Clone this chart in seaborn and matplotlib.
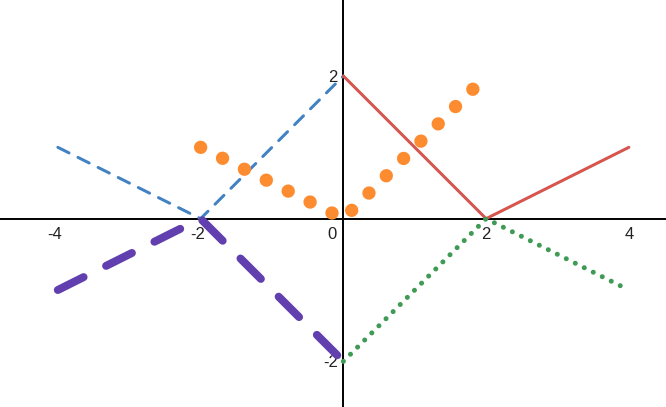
import numpy as np
import matplotlib
matplotlib.use("Agg")
import matplotlib.pyplot as plt
import matplotlib.transforms as mtrans
import pandas as pd
import seaborn as sns

# vertices of each polyline
blue_x = [-4, -2, 0]
blue_y = [1, 0, 2]
red_x = [0, 2, 4]
red_y = [2, 0, 1]
purple_x = [-4, -2, 0]
purple_y = [-1, 0, -2]
green_x = [0, 2, 4]
green_y = [-2, 0, -1]
orange_x = [-2, 0, 2]
orange_y = [1, 0, 2]

x_ticks = [-4, -2, 0, 2, 4]
y_ticks = [-2, 2]

sns.set_style("white")
plt.rcParams['font.family'] = ['Liberation Sans', 'DejaVu Sans']

fig = plt.figure(figsize=(6.66, 4.07), dpi=100)
ax = fig.add_axes([0, 0, 1, 1])

PX = 72.0 / 100  # one pixel in points

def draw(x, y, color, lw_px, ls):
    sns.lineplot(x=x, y=y, ax=ax, color=color, lw=lw_px * PX, ls=ls,
                 sort=False, estimator=None, dash_capstyle='round',
                 solid_capstyle='round', solid_joinstyle='round')

draw(blue_x, blue_y, '#4282c3', 3, (0, (4.2, 3.3)))
draw(red_x, red_y, '#d5554f', 3, '-')
draw(orange_x, orange_y, '#fd8c30', 13.3, (0, (0.01, 1.83)))
draw(purple_x, purple_y, '#613fae', 8, (0, (3.6, 3.15)))
draw(green_x, green_y, '#3f9a55', 5, (0, (0.01, 2.0)))

ax.set_xlim(-4.81, 4.52)
ax.set_ylim(-2.64, 3.065)

for side in ['top', 'right']:
    ax.spines[side].set_visible(False)
for side in ['left', 'bottom']:
    ax.spines[side].set_position(('data', 0))
    ax.spines[side].set_color('black')
    ax.spines[side].set_linewidth(1.4)
    ax.spines[side].set_zorder(0.5)

ax.set_xticks(x_ticks)
ax.set_xticklabels([str(v) for v in x_ticks])
ax.set_yticks(y_ticks)
ax.set_yticklabels([str(v) for v in y_ticks])
ax.tick_params(axis='both', direction='inout', length=6, width=1.2, color='black',
               labelsize=12, labelcolor='#222222')
ax.tick_params(axis='x', pad=3)
ax.tick_params(axis='y', pad=1)

# shift labels so the digit sits on the tick
for lab, v in zip(ax.get_xticklabels(), x_ticks):
    if v < 0:
        dx = -3
    elif v == 0:
        dx = -11
    else:
        dx = 0
    lab.set_transform(lab.get_transform() + mtrans.ScaledTranslation(dx / 100, 0, fig.dpi_scale_trans))

fig.savefig('out.png', dpi=100)
